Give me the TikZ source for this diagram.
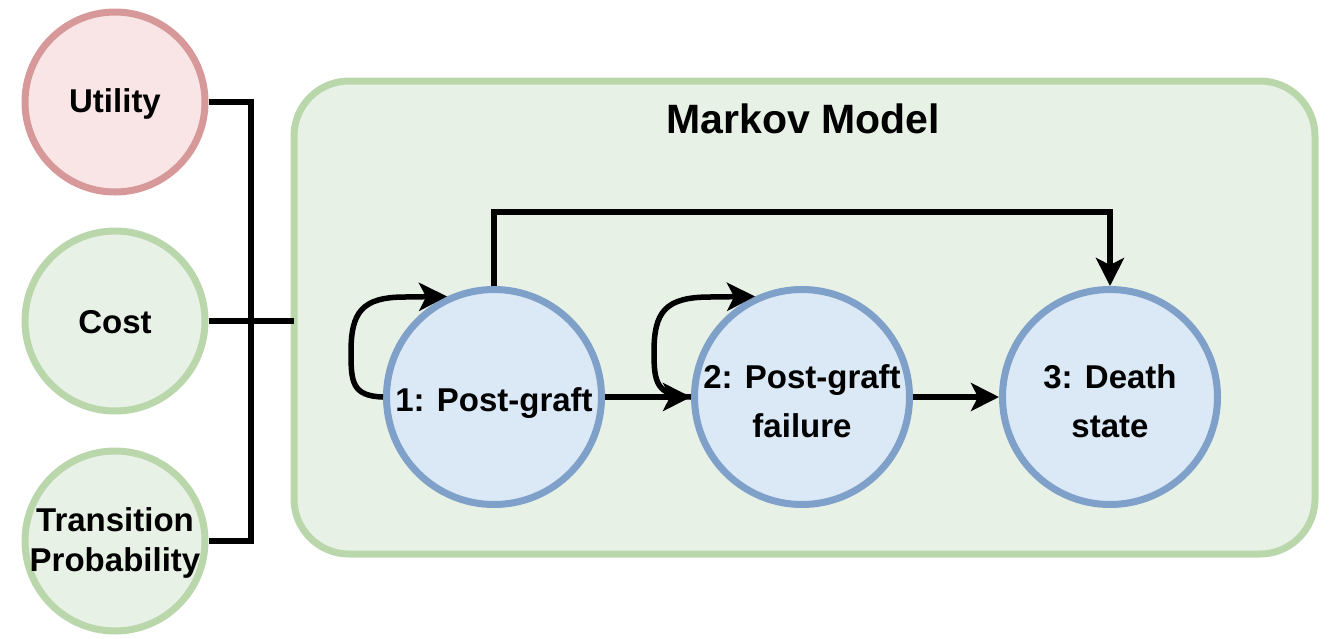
\documentclass[tikz,border=0pt]{standalone}
\usepackage{fontspec}
\setmainfont{Liberation Sans}
\usetikzlibrary{arrows.meta,calc}
\definecolor{redfill}{RGB}{249,229,229}
\definecolor{redline}{RGB}{214,152,152}
\definecolor{greenfill}{RGB}{232,241,229}
\definecolor{greenline}{RGB}{186,215,172}
\definecolor{bluefill}{RGB}{219,232,245}
\definecolor{blueline}{RGB}{127,161,201}
\tikzset{
  param/.style={circle,draw=greenline,fill=greenfill,line width=7pt,minimum size=180pt,inner sep=0pt},
  stateb/.style={circle,draw=blueline,fill=bluefill,line width=7pt,minimum size=215pt,inner sep=0pt},
  lbl/.style={align=center,font=\fontsize{33}{40}\selectfont\bfseries,inner sep=0pt},
  slbl/.style={align=center,font=\fontsize{33}{49}\selectfont\bfseries,inner sep=0pt},
  conn/.style={line width=5.5pt,black},
  arr/.style={conn,-{Stealth[length=28pt,width=28pt,inset=7pt]}},
}
\begin{document}
\begin{tikzpicture}[x=1pt,y=-1pt]
\useasboundingbox (0,0) rectangle (1329,638);
% container
\draw[line width=7pt,draw=greenline,fill=greenfill,rounded corners=55pt] (294,81) rectangle (1315,554);
\coordinate (boxwest) at (294,320);
\node[font=\fontsize{41}{48}\selectfont\bfseries] (title) at (803,119) {Markov Model};
% parameter circles
\node[param,draw=redline,fill=redfill] (util) at (115,102) {};
\node[lbl] (utilt) at (115,104) {Utility};
\node[param] (cost) at (115,321) {};
\node[lbl] (costt) at (115,322) {Cost};
\node[param] (trans) at (115,541) {};
\node[lbl] (transt) at (115,543) {Transition\\Probability};
% states
\node[stateb] (s1) at (494,397) {};
\node[slbl] (s1t) at (494,403) {1: Post-graft};
\node[stateb] (s2) at (802,397) {};
\node[slbl] (s2t) at (802,401) {2: Post-graft\\failure};
\node[stateb] (s3) at (1110,397) {};
\node[slbl] (s3t) at (1110,401) {3: Death\\state};
% bracket connectors
\coordinate (jx) at (251,0);
\draw[conn] (util.east) -- (util.east -| jx) -- (trans.east -| jx) -- (trans.east);
\draw[conn] (cost.east) -- (cost.east -| boxwest);
% transitions
\coordinate (topy) at (0,212);
\draw[arr] (s1.north) -- (s1.north |- topy) -- (s3.north |- topy) -- (s3.north);
\draw[arr] (s1.east) -- (s2.west);
\draw[arr] (s2.east) -- (s3.west);
% self loops
\coordinate (l1a) at (351,352);
\draw[arr] (s1.west) .. controls (352,396) and (351,382) .. (l1a) .. controls (351,312) and (362,297) .. (405,297) -- (s1.115);
\coordinate (l2a) at (654,352);
\draw[conn] (s2.west) .. controls (656,396) and (654,382) .. (l2a);
\draw[arr] (l2a) .. controls (654,312) and (665,297) .. (710,297) -- (s2.115);
\end{tikzpicture}
\end{document}
